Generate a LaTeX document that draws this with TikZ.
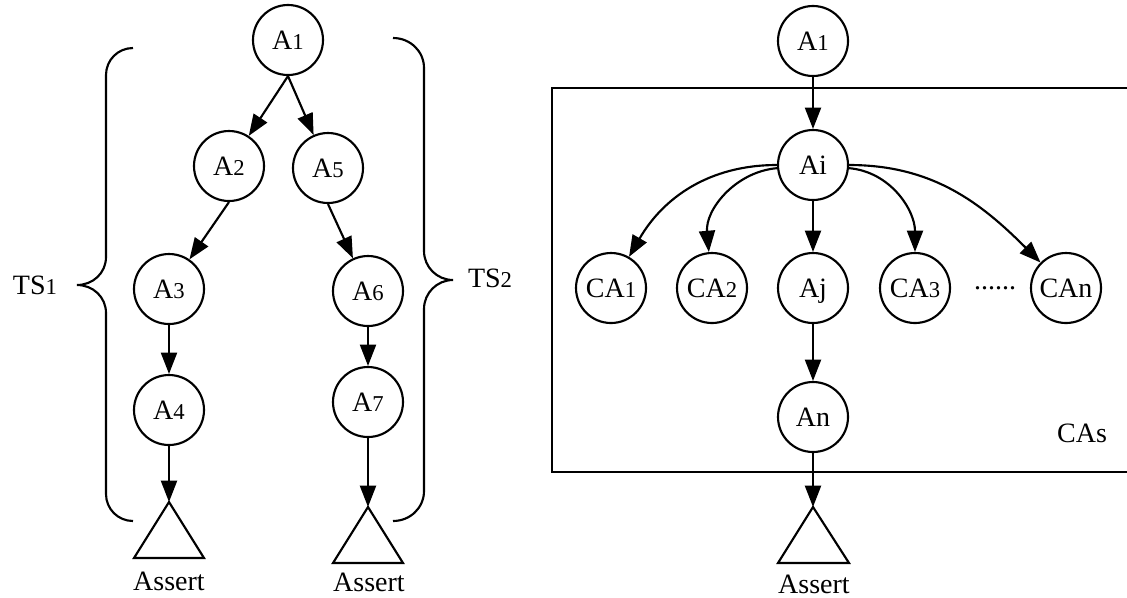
\documentclass[tikz,border=0pt]{standalone}
\usepackage{fontspec}
\setmainfont{Liberation Serif}
\usetikzlibrary{arrows.meta}
\newcommand{\dg}[1]{{\fontsize{17}{17}\selectfont #1}}

\begin{document}
\begin{tikzpicture}[x=0.75pt, y=-0.75pt, line width=1.6pt, font=\fontsize{21}{21}\selectfont,
    state/.style={draw, circle, minimum size=52.5pt, inner sep=0pt, text height=14pt, text depth=0pt},
    arr/.style={-{Triangle[length=16pt, width=12pt]}}]
      \useasboundingbox (0,0) rectangle (1127,597);
      % left: two test sequences
      \node[state] (A1) at (288,40) {A\dg{1}};
      \node[state] (A2) at (229,166) {A\dg{2}};
      \node[state] (A5) at (328,168) {A\dg{5}};
      \node[state] (A3) at (169,289) {A\dg{3}};
      \node[state] (A6) at (368,291) {A\dg{6}};
      \node[state] (A4) at (169,410) {A\dg{4}};
      \node[state] (A7) at (368,402) {A\dg{7}};
      \coordinate (T1) at (169,502);
      \coordinate (T2) at (368,507);
      \draw (T1) -- (134,558) -- (204,558) -- cycle;
      \draw (T2) -- (333,563) -- (403,563) -- cycle;
      \node (L1) at (169,581) {Assert};
      \node (L2) at (369,582) {Assert};
      \draw[arr] (A1.south) -- (A2);
      \draw[arr] (A1.south) -- (A5);
      \draw[arr] (A2.south) -- (A3);
      \draw[arr] (A5.south) -- (A6);
      \draw[arr] (A3) -- (A4);
      \draw[arr] (A6) -- (A7);
      \draw[arr] (A4) -- (T1);
      \draw[arr] (A7) -- (T2);
      \draw (133,48) .. controls (118,48) and (106,60) .. (106,75) -- (106,257) .. controls (106,273) and (93,285) .. (77,285) .. controls (93,285) and (106,297) .. (106,313) -- (106,494) .. controls (106,509) and (118,521) .. (133,521);
      \draw (393,38) .. controls (410,38) and (424,51) .. (424,68) -- (424,251) .. controls (424,267) and (437,280) .. (453,280) .. controls (437,280) and (424,293) .. (424,309) -- (424,491) .. controls (424,508) and (410,521) .. (393,521);
      \node (TS1) at (35,285) {TS\dg{1}};
      \node (TS2) at (490,278) {TS\dg{2}};
      % right: the CAs box
      \draw (1130,88) -- (552,88) -- (552,472) -- (1130,472);
      \node (CAs) at (1082,433) {CAs};
      \node[state] (B1) at (813,41) {A\dg{1}};
      \node[state] (Ai) at (813,165) {Ai};
      \node[state] (CA1) at (611,288) {CA\dg{1}};
      \node[state] (CA2) at (712,288) {CA\dg{2}};
      \node[state] (Aj) at (813,288) {Aj};
      \node[state] (CA3) at (915,288) {CA\dg{3}};
      \node (dots) at (995,288) {......};
      \node[state] (CAn) at (1066,288) {CAn};
      \node[state] (An) at (813,417) {An};
      \coordinate (T3) at (813,507);
      \draw (T3) -- (778,563) -- (849,563) -- cycle;
      \node (L3) at (814,584) {Assert};
      \draw[arr] (B1) -- (Ai);
      \draw[arr] (Ai) to[out=180, in=60] (CA1);
      \draw[arr] (Ai) to[out=185, in=95] (CA2);
      \draw[arr] (Ai) -- (Aj);
      \draw[arr] (Ai) to[out=-5, in=90] (CA3);
      \draw[arr] (Ai) to[out=0, in=135] (CAn);
      \draw[arr] (Aj) -- (An);
      \draw[arr] (An) -- (T3);
    \end{tikzpicture}
\end{document}
